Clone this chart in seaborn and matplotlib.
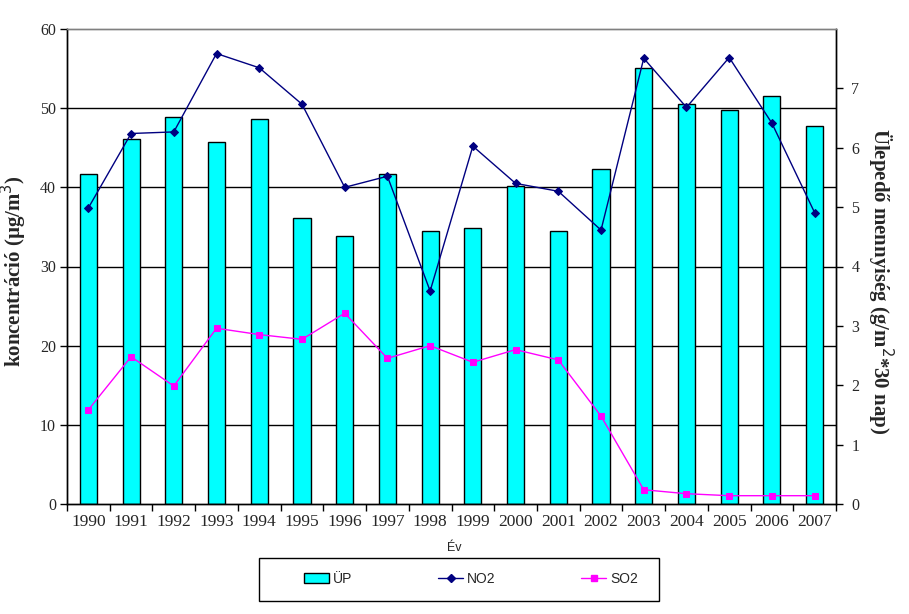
import matplotlib
matplotlib.use("Agg")
import matplotlib.pyplot as plt
import matplotlib.transforms as mtransforms
from matplotlib.patches import Patch, Rectangle
from matplotlib.lines import Line2D
import seaborn as sns
import pandas as pd

years = ["1990", "1991", "1992", "1993", "1994", "1995", "1996", "1997", "1998",
         "1999", "2000", "2001", "2002", "2003", "2004", "2005", "2006", "2007"]
up = [5.56, 6.14, 6.51, 6.09, 6.48, 4.82, 4.52, 5.56, 4.59,
      4.65, 5.35, 4.60, 5.65, 7.35, 6.73, 6.63, 6.87, 6.37]
no2 = [37.4, 46.8, 47.0, 56.9, 55.1, 50.5, 40.0, 41.4, 26.9,
       45.2, 40.5, 39.5, 34.6, 56.3, 50.1, 56.4, 48.1, 36.8]
so2 = [11.9, 18.6, 14.9, 22.2, 21.4, 20.8, 24.1, 18.4, 20.0,
       17.9, 19.5, 18.2, 11.1, 1.8, 1.3, 1.05, 1.05, 1.05]
left_ticks = [0, 10, 20, 30, 40, 50, 60]
right_ticks = [0, 1, 2, 3, 4, 5, 6, 7]
left_max, right_max = 60, 8

df = pd.DataFrame({"Év": years, "ÜP": up, "NO2": no2, "SO2": so2})

sns.set_style("white")
plt.rcParams["font.family"] = ["Liberation Serif", "DejaVu Serif"]

fig = plt.figure(figsize=(9.09, 6.14), dpi=100)
ax = fig.add_axes([67 / 909, 1 - 504 / 614, (836 - 67) / 909, (504 - 29) / 614])
ax2 = ax.twinx()

# bars (right axis)
sns.barplot(data=df, x="Év", y="ÜP", ax=ax, color="#00FFFF", saturation=1,
            width=0.4, edgecolor="black", linewidth=1, errorbar=None, zorder=2)
# grid lines of the left scale, behind bars
blend = mtransforms.blended_transform_factory(ax.transAxes, ax2.transData)
for v in left_ticks[1:-1]:
    ax.plot([0, 1], [v, v], transform=blend, color="black", lw=1, zorder=1)

# lines (left axis)
sns.pointplot(data=df, x="Év", y="NO2", ax=ax2, color="#000080", markers="D",
              markersize=4.5, linewidth=1, errorbar=None)
sns.pointplot(data=df, x="Év", y="SO2", ax=ax2, color="#FF00FF", markers="s",
              markersize=4.5, linewidth=1, errorbar=None)

n = len(years)
for a in (ax, ax2):
    a.set_xlim(-0.5, n - 0.5)
    a.set_xlabel("")
ax.set_ylim(0, right_max)
ax2.set_ylim(0, left_max)

# right axis (bars)
ax.yaxis.tick_right()
ax.yaxis.set_label_position("right")
ax.set_yticks(right_ticks)
ax.set_yticklabels([str(t) for t in right_ticks], fontsize=11.5)
ax.set_ylabel("Ülepedő mennyiség (g/m$^2$*30 nap)", fontsize=15, fontweight="bold",
              rotation=270)
ax.yaxis.set_label_coords(1.077, 0.47)
ax.tick_params(axis="y", direction="out", length=5, width=1, color="black", pad=6,
               right=True, left=False)

# left axis (lines)
ax2.yaxis.tick_left()
ax2.yaxis.set_label_position("left")
ax2.set_yticks(left_ticks)
ax2.set_yticklabels([str(t) for t in left_ticks], fontsize=11.5)
ax2.set_ylabel("koncentráció (µg/m$^3$)", fontsize=15, fontweight="bold")
ax2.yaxis.set_label_coords(-0.049, 0.49)
ax2.tick_params(axis="y", direction="out", length=5, width=1, color="black", pad=3,
                left=True, right=False)

# x axis: labels at centres, tick marks at boundaries
ax.set_xticks(range(n))
ax.set_xticklabels(years, fontsize=12.5)
ax.set_xticks([i - 0.5 for i in range(n + 1)], minor=True)
ax.tick_params(axis="x", which="major", length=0, pad=7)
ax.tick_params(axis="x", which="minor", direction="out", length=5, width=1,
               color="black", bottom=True)
ax2.tick_params(axis="x", which="both", bottom=False, top=False, labelbottom=False)

for a in (ax, ax2):
    for s in ("left", "right", "bottom"):
        a.spines[s].set_color("black")
        a.spines[s].set_linewidth(1)
    a.spines["top"].set_color("#808080")
    a.spines["top"].set_linewidth(1)
    a.spines["left"].set_visible(True)
    a.spines["right"].set_visible(True)

fig.text(454 / 909, 1 - 548 / 614, "Év", ha="center", va="center", fontsize=9,
         family=["Liberation Sans", "DejaVu Sans"])

# legend box
fig.patches.append(Rectangle((259 / 909, 1 - 601 / 614), 400 / 909, 43 / 614,
                             transform=fig.transFigure, fill=False,
                             edgecolor="black", linewidth=1))
handles = [
    Patch(facecolor="#00FFFF", edgecolor="black", linewidth=1),
    Line2D([], [], color="#000080", marker="D", markersize=4.5, lw=1),
    Line2D([], [], color="#FF00FF", marker="s", markersize=4.5, lw=1),
]
leg = fig.legend(handles, ["ÜP", "NO2", "SO2"], ncol=3,
                 loc="center", bbox_to_anchor=(471 / 909, 1 - 579 / 614),
                 frameon=False,
                 prop={"family": ["Liberation Sans", "DejaVu Sans"], "size": 10},
                 columnspacing=6.2, handlelength=1.8, handletextpad=0.25,
                 borderpad=0)

fig.savefig("out.png", dpi=100)
